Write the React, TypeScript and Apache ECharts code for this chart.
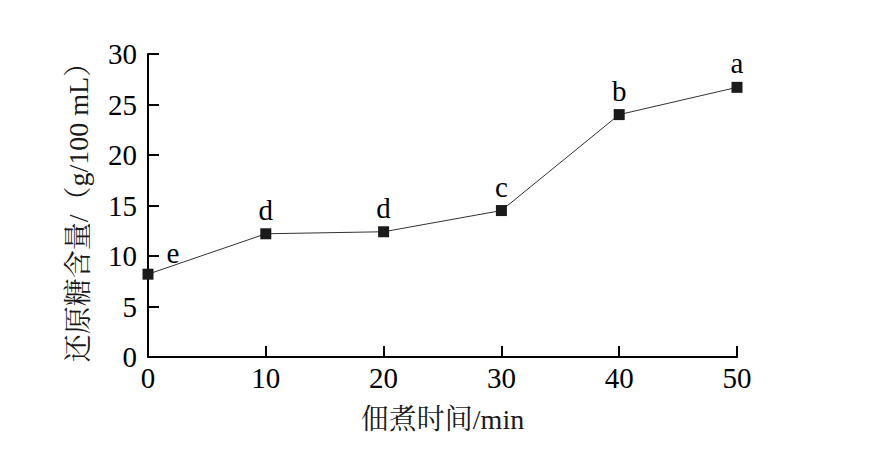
import React, { useEffect, useRef } from "react";
import * as echarts from "echarts";

const times = [0, 10, 20, 30, 40, 50];
const sugar = [8.2, 12.2, 12.4, 14.5, 24.0, 26.7];
const letters = ["e", "d", "d", "c", "b", "a"];
const xTicks = [0, 10, 20, 30, 40, 50];
const yTicks = [0, 5, 10, 15, 20, 25, 30];

const FONT = "'Liberation Serif', 'Noto Serif CJK SC', 'Noto Sans CJK SC', serif";

export default function App() {
  const ref = useRef<HTMLDivElement>(null);
  useEffect(() => {
    document.body.style.margin = "0";
    const chart = echarts.init(ref.current!, null, { renderer: "svg" });
    const data = times.map((t, i) => {
      const item: any = { value: [t, sugar[i]], label: { formatter: letters[i] } };
      if (i === 0) item.label = { formatter: letters[i], position: "right", offset: [9, -21] };
      return item;
    });
    chart.setOption({
      animation: false,
      backgroundColor: "#fff",
      textStyle: { fontFamily: FONT },
      grid: { left: 148, right: 155, top: 54, bottom: 104, containLabel: false },
      xAxis: {
        type: "value",
        min: xTicks[0],
        max: xTicks[xTicks.length - 1],
        interval: 10,
        name: "佃煮时间/min",
        nameLocation: "middle",
        nameGap: 48,
        nameTextStyle: { fontSize: 28, color: "#1a1a1a", fontFamily: FONT },
        axisLine: { show: true, onZero: false, lineStyle: { color: "#000", width: 2 } },
        axisTick: { show: true, inside: true, length: 11, lineStyle: { color: "#000", width: 2 } },
        axisLabel: { fontSize: 29, color: "#000", margin: 6, fontFamily: FONT },
        splitLine: { show: false },
      },
      yAxis: {
        type: "value",
        min: yTicks[0],
        max: yTicks[yTicks.length - 1],
        interval: 5,
        name: "还原糖含量/（g/100 mL）",
        nameLocation: "middle",
        nameGap: 56,
        nameTextStyle: { fontSize: 28, color: "#1a1a1a", fontFamily: FONT },
        axisLine: { show: true, lineStyle: { color: "#000", width: 2 } },
        axisTick: { show: true, inside: true, length: 11, lineStyle: { color: "#000", width: 2 } },
        axisLabel: { fontSize: 29, color: "#000", margin: 11, fontFamily: FONT },
        splitLine: { show: false },
      },
      series: [
        {
          type: "line",
          data,
          symbol: "rect",
          symbolSize: 11,
          itemStyle: { color: "#1a1a1a" },
          lineStyle: { color: "#333", width: 1 },
          label: { show: true, position: "top", distance: 4, fontSize: 29, color: "#000", fontFamily: FONT },
          z: 3,
        },
      ],
    });
    return () => chart.dispose();
  }, []);
  return <div ref={ref} style={{ width: 892, height: 461 }} />;
}
